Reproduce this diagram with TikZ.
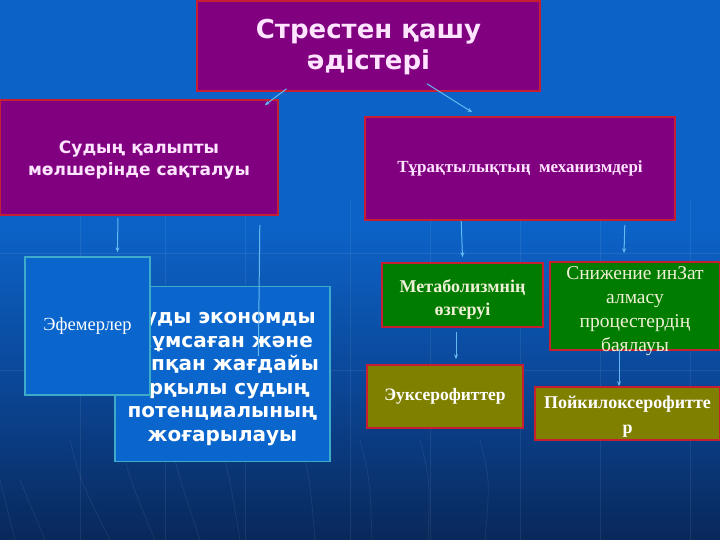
\documentclass[tikz,border=0pt]{standalone}
\usepackage{fontspec}
\setmainfont{Liberation Serif}
\newfontfamily\djv{DejaVu Sans}
\usetikzlibrary{calc,arrows.meta}
\definecolor{bgtop}{RGB}{12,98,198}
\definecolor{bgmid}{RGB}{11,70,150}
\definecolor{bgbot}{RGB}{9,40,90}
\definecolor{purp}{RGB}{128,0,128}
\definecolor{redb}{RGB}{200,30,50}
\definecolor{grn}{RGB}{0,125,0}
\definecolor{olv}{RGB}{128,128,0}
\definecolor{bfill}{RGB}{10,102,204}
\definecolor{bline}{RGB}{60,170,200}
\definecolor{arrc}{RGB}{100,185,240}
\definecolor{ptext}{RGB}{255,228,255}
\definecolor{gtext}{RGB}{240,240,215}
\begin{document}
\begin{tikzpicture}[x=1pt,y=-1pt,
  pbox/.style={draw=redb, line width=1.6pt, fill=purp, text=ptext, inner sep=0pt, align=center},
  gbox/.style={draw=redb, line width=1.6pt, fill=grn, text=gtext, inner sep=0pt, align=center},
  obox/.style={draw=redb, line width=1.6pt, fill=olv, text=white, inner sep=0pt, align=center},
  bbox/.style={draw=bline, line width=1.2pt, fill=bfill, text=white, inner sep=0pt, align=center},
  txt/.style={inner sep=0pt, align=center},
  conn/.style={draw=arrc, line width=1pt, -{Stealth[length=5pt,width=4pt]}},
  plain/.style={draw=arrc, line width=1pt},
  faint/.style={draw=white, opacity=0.07, line width=0.8pt}
]
% background
\fill[bgtop] (0,0) rectangle (720,540);
\fill[top color=bgtop, bottom color=bgbot, middle color=bgmid] (0,230) rectangle (720,540);
\useasboundingbox (0,0) rectangle (720,540);
% faint grid
\foreach \yy in {253,370} \draw[faint] (0,\yy) -- (720,\yy);
\foreach \xx in {80,165,245,350,430,520,600,690} \draw[faint] (\xx,200) -- (\xx,540);
\foreach \xa/\xb in {70/110,120/155,170/200,220/240,300/315,360/372,420/428,480/485} \draw[faint] (\xa,440) .. controls (\xa+10,480) .. (\xb,540);
\foreach \xa/\xb in {0/15,20/45} \draw[faint] (\xa,480) -- (\xb,540);

% boxes
\node[pbox, minimum width=343pt, minimum height=90pt] (top) at (368.5,46) {};
\node[txt, text=ptext, font=\djv\bfseries\fontsize{26}{31}\selectfont] (toptxt) at ($(top)+(0,1.5)$)
  {Стрестен қашу\\ әдістері};
\node[pbox, minimum width=278pt, minimum height=115pt] (lbox) at (139,157.5) {};
\node[txt, text=ptext, font=\djv\bfseries\fontsize{17}{22}\selectfont] (ltxt) at ($(lbox)+(0,3)$)
  {Судың қалыпты\\ мөлшерінде сақталуы};
\node[pbox, minimum width=310pt, minimum height=103pt, font=\bfseries\fontsize{17}{22}\selectfont] (rbox) at (520,168.5)
  {Тұрақтылықтың\ \ механизмдері};
\node[bbox, minimum width=215pt, minimum height=175pt] (big) at (222.5,374) {};
\node[txt, text=white, font=\djv\bfseries\fontsize{20}{23.5}\selectfont] (bigtxt) at ($(big)+(0,3)$)
  {Суды экономды\\ жұмсаған және\\ тапқан жағдайы\\ арқылы судың\\ потенциалының\\ жоғарылауы};
\node[bbox, minimum width=125pt, minimum height=138pt, font=\fontsize{18.5}{22}\selectfont] (eph) at (87.5,326)
  {Эфемерлер};
\node[gbox, minimum width=161pt, minimum height=64pt] (met) at (462.5,295) {};
\node[txt, text=gtext, font=\bfseries\fontsize{18}{23}\selectfont] (mettxt) at ($(met)+(0,4)$)
  {Метаболизмнің\\ өзгеруі};
\node[gbox, minimum width=170pt, minimum height=88pt] (sni) at (635,306) {};
\node[txt, text=gtext, font=\fontsize{19.5}{24}\selectfont] (snitxt) at ($(sni)+(0,5)$)
  {Снижение инЗат\\ алмасу\\ процестердің\\ баялауы};
\node[obox, minimum width=156pt, minimum height=63pt, font=\bfseries\fontsize{17.5}{22}\selectfont] (eux) at (445,396.5)
  {Эуксерофиттер};
\node[obox, minimum width=185pt, minimum height=53pt] (poi) at (627.5,413.5) {};
\node[txt, text=white, font=\bfseries\fontsize{18}{25}\selectfont] (poitxt) at ($(poi)+(0,3)$)
  {Пойкилоксерофитте\\ р};

% connectors
\draw[conn] ($(top.south)+(-82,-3)$) -- ($(lbox.north east)+(-14,6)$);
\draw[conn] ($(top.south)+(58.5,-8)$) -- ($(rbox.north west)+(108,-4)$);
\draw[conn] ($(lbox.south)+(-21,2)$) -- ($(eph.north west)+(93,-4)$);
\coordinate (lend) at ($(big.north west)+(144,70)$);
\draw[plain] ($(lbox.south east)+(-19,9)$) -- (lend);
\draw[conn] ($(rbox.south west)+(97,0)$) -- ($(met.north)+(0,-5)$);
\draw[conn] ($(rbox.south east)+(-51,4)$) -- ($(sni.north)+(-11,-8)$);
\draw[conn] ($(met.south)+(-6.5,4)$) -- ($(eux.north)+(11,-5)$);
\draw[conn] ($(sni.south)+(-16,-2)$) -- ($(poi.north)+(-8.5,0)$);
\end{tikzpicture}
\end{document}
